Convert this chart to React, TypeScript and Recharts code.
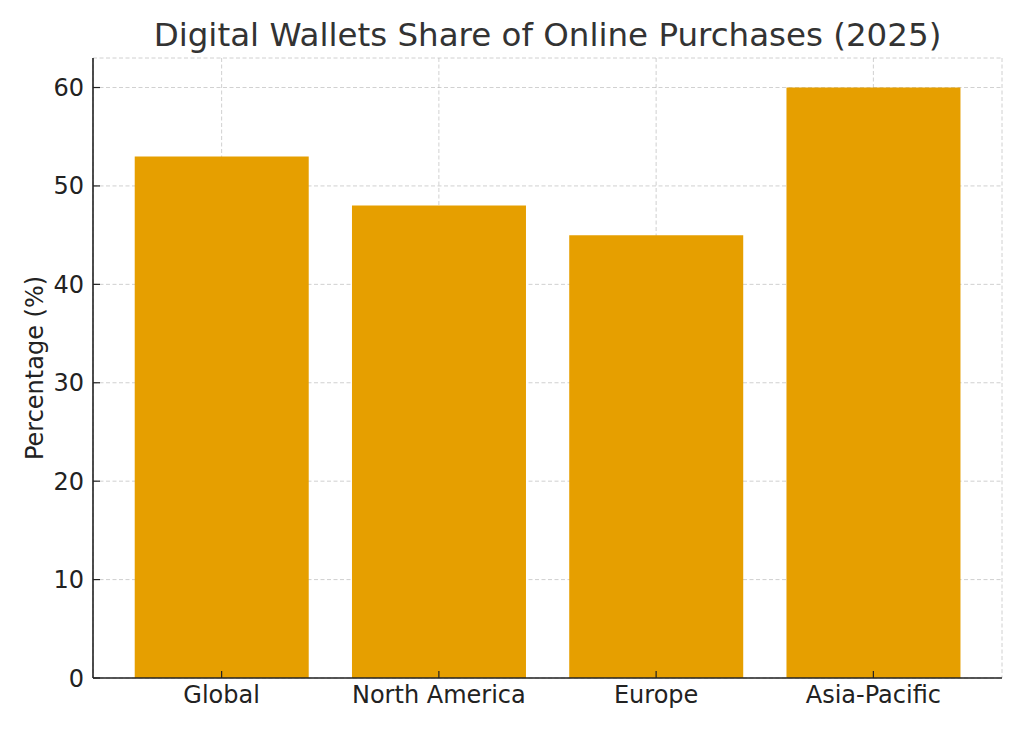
import React from 'react';
import { BarChart, Bar, XAxis, YAxis, CartesianGrid } from 'recharts';

const regions = ['Global', 'North America', 'Europe', 'Asia-Pacific'];
const shares = [53, 48, 45, 60];
const yTicks = [0, 10, 20, 30, 40, 50, 60];

const data = regions.map((region, i) => ({ region, share: shares[i] }));

const font = 'DejaVu Sans, sans-serif';

const App: React.FC = () => {
  return (
    <div style={{ position: 'absolute', left: 0, top: 0, width: 1024, height: 731, background: '#fff', fontFamily: font }}>
      <div
        style={{
          position: 'absolute',
          left: 93,
          width: 909,
          top: 14,
          textAlign: 'center',
          fontSize: 32.5,
          color: '#333',
          lineHeight: '42px',
        }}
      >
        Digital Wallets Share of Online Purchases (2025)
      </div>
      <BarChart
        width={1024}
        height={731}
        data={data}
        margin={{ top: 58, right: 22, bottom: 23, left: 0 }}
        barCategoryGap="10%"
      >
        <XAxis
          dataKey="region"
          padding={{ left: 20, right: 20 }}
          axisLine={{ stroke: '#222', strokeWidth: 1.6 }}
          tickLine={{ stroke: '#222', strokeWidth: 1.2 }}
          tickSize={-7}
          tickMargin={15}
          tick={{ fill: '#222', fontSize: 24, fontFamily: font }}
        />
        <YAxis
          width={93}
          domain={[0, 63]}
          ticks={yTicks}
          axisLine={{ stroke: '#222', strokeWidth: 1.6 }}
          tickLine={{ stroke: '#222', strokeWidth: 1.2 }}
          tickSize={-7}
          tickMargin={16}
          tick={{ fill: '#222', fontSize: 24, fontFamily: font }}
          label={{
            value: 'Percentage (%)',
            angle: -90,
            position: 'insideLeft',
            offset: 34,
            style: { textAnchor: 'middle', fill: '#222', fontSize: 24, fontFamily: font },
          }}
        />
        <Bar dataKey="share" fill="#E69F00" isAnimationActive={false} />
        <CartesianGrid stroke="#b0b0b0" strokeOpacity={0.6} strokeDasharray="4 2.5" />
      </BarChart>
    </div>
  );
};

export default App;
